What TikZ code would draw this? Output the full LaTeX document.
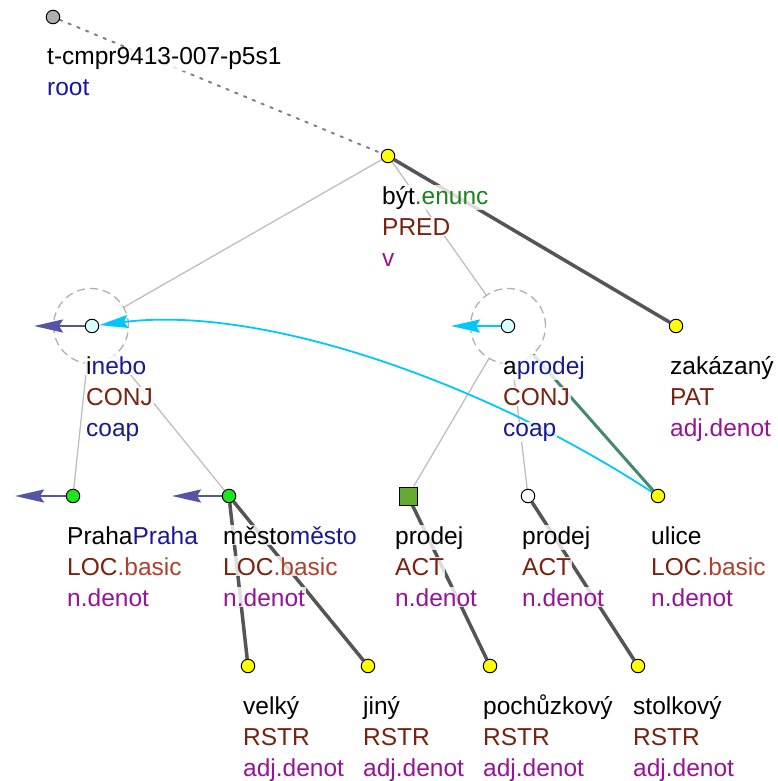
\documentclass[tikz,border=0pt]{standalone}
\usepackage{fontspec}
\setmainfont{Liberation Sans}
\usetikzlibrary{arrows.meta}
\definecolor{lemblue}{RGB}{25,25,150}
\definecolor{funbrown}{RGB}{120,35,15}
\definecolor{basicred}{RGB}{175,65,45}
\definecolor{pospurple}{RGB}{150,20,150}
\definecolor{enuncgreen}{RGB}{30,130,30}
\definecolor{thinedge}{RGB}{190,190,190}
\definecolor{thickedge}{RGB}{85,85,85}
\definecolor{tealedge}{RGB}{70,135,115}
\definecolor{corefblue}{RGB}{85,85,165}
\definecolor{corefcyan}{RGB}{0,200,255}
\definecolor{nodeyellow}{RGB}{255,255,0}
\definecolor{nodegreen}{RGB}{30,230,30}
\definecolor{squaregreen}{RGB}{100,170,50}
\definecolor{nodecyan}{RGB}{215,255,255}
\definecolor{nodegray}{RGB}{175,175,175}
\definecolor{dashgray}{RGB}{175,175,175}
\begin{document}
\begin{tikzpicture}[x=1pt,y=-1pt,
  font=\fontsize{24.5}{29}\selectfont,
  lab/.style={anchor=base west,inner sep=1pt,fill=white,fill opacity=0.8,text opacity=1},
  tnode/.style={circle,draw=black,line width=1pt,minimum size=13.5pt,inner sep=0pt},
  ynode/.style={tnode,fill=nodeyellow},
  gnode/.style={tnode,fill=nodegreen},
  cnode/.style={tnode,fill=nodecyan},
  wnode/.style={tnode,fill=white},
  rnode/.style={tnode,fill=nodegray},
  snode/.style={rectangle,draw=black,line width=1pt,fill=squaregreen,minimum size=18pt,inner sep=0pt},
  dcirc/.style={circle,draw=dashgray,line width=1.3pt,dash pattern=on 8pt off 5pt,minimum size=75pt,inner sep=0pt},
  dotedge/.style={draw=gray,line width=2pt,dash pattern=on 2.5pt off 7pt,line cap=round},
  thinline/.style={draw=thinedge,line width=1.3pt},
  thickline/.style={draw=thickedge,line width=3.5pt},
  tealline/.style={draw=tealedge,line width=3pt},
  corefb/.style={draw=corefblue,line width=2.5pt,-{Stealth[length=29pt,width=13pt,inset=4pt]}},
  corefc/.style={draw=corefcyan,line width=2.5pt,-{Stealth[length=29pt,width=13pt,inset=4pt]}},
  curvec/.style={draw=corefcyan,line width=1.8pt,-{Stealth[length=29pt,width=13pt,inset=4pt]}}
]
\useasboundingbox (0,0) rectangle (777,781);

% dashed circles of coordination nodes
\node[dcirc] (ineboC) at (91,326) {};
\node[dcirc] (aprodejC) at (508,326) {};

% invisible anchors for the node circles (for edge clipping)
\node[rnode,draw=none,fill=none] (root) at (53,17) {};
\node[ynode,draw=none,fill=none] (byt) at (388,156) {};
\node[cnode,draw=none,fill=none] (inebo) at (92,326) {};
\node[cnode,draw=none,fill=none] (aprodej) at (508,326) {};
\node[ynode,draw=none,fill=none] (zak) at (676,326) {};
\node[gnode,draw=none,fill=none] (praha) at (73,496) {};
\node[gnode,draw=none,fill=none] (mesto) at (229,496) {};
\node[snode,draw=none,fill=none] (prodejS) at (408,496) {};
\node[wnode,draw=none,fill=none] (prodejC) at (528,496) {};
\node[ynode,draw=none,fill=none] (ulice) at (658,496) {};
\node[ynode,draw=none,fill=none] (velky) at (248,666) {};
\node[ynode,draw=none,fill=none] (jiny) at (368,666) {};
\node[ynode,draw=none,fill=none] (pochuz) at (490,666) {};
\node[ynode,draw=none,fill=none] (stolk) at (638,666) {};

% edges
\draw[dotedge] (root) -- (byt);
\draw[thinline] (byt) -- (ineboC);
\draw[thinline] (byt) -- (aprodejC);
\draw[thickline] (byt) -- (zak);
\draw[thinline] (ineboC) -- (praha);
\draw[thinline] (ineboC) -- (mesto);
\draw[thinline] (aprodejC) -- (prodejS);
\draw[thinline] (aprodejC) -- (prodejC);
\draw[tealline] (aprodejC) -- (ulice);
\draw[thickline] (mesto) -- (velky);
\draw[thickline] (mesto) -- (jiny);
\draw[thickline] (prodejS) -- (pochuz);
\draw[thickline] (prodejC) -- (stolk);

% coreference arrows
\draw[curvec] (ulice) .. controls (480,380) and (260,305) .. (inebo);
\coordinate (ineboT) at (34,326);
\coordinate (prahaT) at (15,496);
\coordinate (mestoT) at (172,496);
\coordinate (aprodejT) at (451,326);
\draw[corefb] (inebo) -- (ineboT);
\draw[corefb] (praha) -- (prahaT);
\draw[corefb] (mesto) -- (mestoT);
\draw[corefc] (aprodej) -- (aprodejT);

% labels
\node[lab] (l-root1) at (46,65) {t-cmpr9413-007-p5s1};
\node[lab] (l-root2) at (46,96) {\color{lemblue}root};

\node[lab] (l-byt1) at (381,204) {být\textcolor{enuncgreen}{.enunc}};
\node[lab] (l-byt2) at (381,235) {\color{funbrown}PRED};
\node[lab] (l-byt3) at (381,266) {\color{pospurple}v};

\node[lab] (l-inebo1) at (85,374) {i\textcolor{lemblue}{nebo}};
\node[lab] (l-inebo2) at (85,405) {\color{funbrown}CONJ};
\node[lab] (l-inebo3) at (85,436) {\color{lemblue}coap};

\node[lab] (l-aprodej1) at (502,374) {a\textcolor{lemblue}{prodej}};
\node[lab] (l-aprodej2) at (502,405) {\color{funbrown}CONJ};
\node[lab] (l-aprodej3) at (502,436) {\color{lemblue}coap};

\node[lab] (l-zak1) at (669,374) {zakázaný};
\node[lab] (l-zak2) at (669,405) {\color{funbrown}PAT};
\node[lab] (l-zak3) at (669,436) {\color{pospurple}adj.denot};

\node[lab] (l-praha1) at (66,544) {Praha\textcolor{lemblue}{Praha}};
\node[lab] (l-praha2) at (66,575) {\color{funbrown}LOC\textcolor{basicred}{.basic}};
\node[lab] (l-praha3) at (66,606) {\color{pospurple}n.denot};

\node[lab] (l-mesto1) at (222,544) {město\textcolor{lemblue}{město}};
\node[lab] (l-mesto2) at (222,575) {\color{funbrown}LOC\textcolor{basicred}{.basic}};
\node[lab] (l-mesto3) at (222,606) {\color{pospurple}n.denot};

\node[lab] (l-prodejS1) at (394,544) {prodej};
\node[lab] (l-prodejS2) at (394,575) {\color{funbrown}ACT};
\node[lab] (l-prodejS3) at (394,606) {\color{pospurple}n.denot};

\node[lab] (l-prodejC1) at (521,544) {prodej};
\node[lab] (l-prodejC2) at (521,575) {\color{funbrown}ACT};
\node[lab] (l-prodejC3) at (521,606) {\color{pospurple}n.denot};

\node[lab] (l-ulice1) at (650,544) {ulice};
\node[lab] (l-ulice2) at (650,575) {\color{funbrown}LOC\textcolor{basicred}{.basic}};
\node[lab] (l-ulice3) at (650,606) {\color{pospurple}n.denot};

\node[lab] (l-velky1) at (242,714) {velký};
\node[lab] (l-velky2) at (242,745) {\color{funbrown}RSTR};
\node[lab] (l-velky3) at (242,776) {\color{pospurple}adj.denot};

\node[lab] (l-jiny1) at (362,714) {jiný};
\node[lab] (l-jiny2) at (362,745) {\color{funbrown}RSTR};
\node[lab] (l-jiny3) at (362,776) {\color{pospurple}adj.denot};

\node[lab] (l-pochuz1) at (482,714) {pochůzkový};
\node[lab] (l-pochuz2) at (482,745) {\color{funbrown}RSTR};
\node[lab] (l-pochuz3) at (482,776) {\color{pospurple}adj.denot};

\node[lab] (l-stolk1) at (632,714) {stolkový};
\node[lab] (l-stolk2) at (632,745) {\color{funbrown}RSTR};
\node[lab] (l-stolk3) at (632,776) {\color{pospurple}adj.denot};

% visible node symbols on top
\node[rnode] at (root) {};
\node[ynode] at (byt) {};
\node[cnode] at (inebo) {};
\node[cnode] at (aprodej) {};
\node[ynode] at (zak) {};
\node[gnode] at (praha) {};
\node[gnode] at (mesto) {};
\node[snode] at (prodejS) {};
\node[wnode] at (prodejC) {};
\node[ynode] at (ulice) {};
\node[ynode] at (velky) {};
\node[ynode] at (jiny) {};
\node[ynode] at (pochuz) {};
\node[ynode] at (stolk) {};
\end{tikzpicture}
\end{document}
